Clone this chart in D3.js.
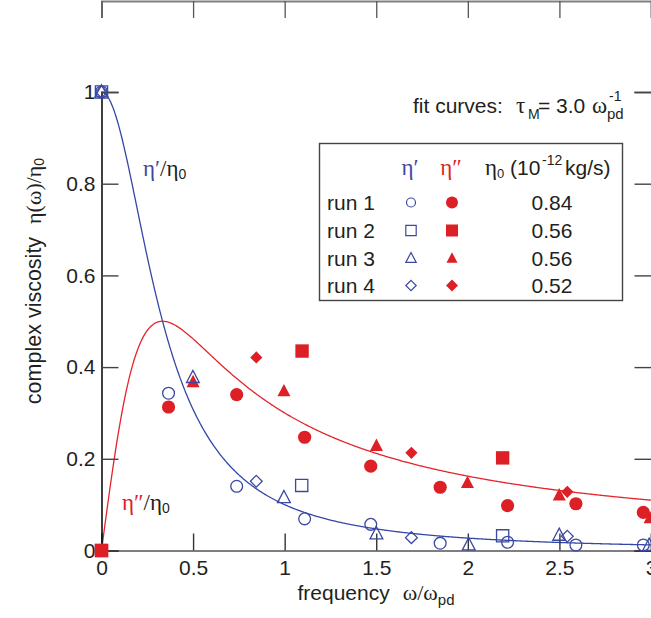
<!DOCTYPE html>
<html>
<head>
<meta charset="utf-8">
<script src="https://cdn.jsdelivr.net/npm/d3@7/dist/d3.min.js"></script>
<style>
  html, body { margin: 0; padding: 0; background: #fff; }
  svg { display: block; }
  text { font-family: "Liberation Sans", Arial, Helvetica, sans-serif; fill: #231f20; white-space: pre; }
  .serif { font-family: "Liberation Serif", "Times New Roman", serif; }
</style>
</head>
<body>
<svg id="chart" width="651" height="618"></svg>
<script>
// ---- data -------------------------------------------------------------
const runs = ["run 1", "run 2", "run 3", "run 4"];
const runShapes = ["circle", "square", "triangle", "diamond"];
const eta0Values = ["0.84", "0.56", "0.56", "0.52"];   // η0 in 10^-12 kg/s

// storage part η'/η0, per run: frequency ω/ω_pd and value
const etaPrimeFreq = [
  [0, 0.366, 0.738, 1.109, 1.470, 1.849, 2.217, 2.590, 2.958],
  [0, 1.093, 2.190],
  [0, 0.499, 0.996, 1.501, 2.005, 2.499, 2.990],
  [0, 0.845, 1.692, 2.543]
];
const etaPrimeVal = [
  [1, 0.343, 0.140, 0.069, 0.057, 0.016, 0.018, 0.012, 0.012],
  [1, 0.142, 0.032],
  [1, 0.377, 0.115, 0.036, 0.012, 0.033, 0.011],
  [1, 0.151, 0.028, 0.031]
];

// loss part η''/η0, per run
const etaDoublePrimeFreq = [
  [0, 0.366, 0.738, 1.109, 1.470, 1.849, 2.217, 2.590, 2.958],
  [0, 1.095, 2.190],
  [0, 0.500, 0.996, 1.501, 1.998, 2.499, 2.995],
  [0, 0.845, 1.692, 2.543]
];
const etaDoublePrimeVal = [
  [0, 0.313, 0.340, 0.247, 0.184, 0.138, 0.098, 0.102, 0.083],
  [0, 0.435, 0.202],
  [0, 0.367, 0.347, 0.228, 0.147, 0.120, 0.070],
  [0, 0.421, 0.213, 0.128]
];

// Maxwell fit: relaxation time in units of 1/ω_pd
const tauM = 3.0;
const xTicks = [0, 0.5, 1, 1.5, 2, 2.5, 3];
const xTickLabels = ["0", "0.5", "1", "1.5", "2", "2.5", "3"];
const yTicks = [0, 0.2, 0.4, 0.6, 0.8, 1];
const yTickLabels = ["0", "0.2", "0.4", "0.6", "0.8", "1"];

// ---- setup ------------------------------------------------------------
const BLUE = "#3b49a3";
const BLUE_LINE = "#3447a6";
const RED = "#dd1f26";
const RED_LINE = "#e5242b";
const FS = 21;

const svg = d3.select("#chart");
const x = d3.scaleLinear().domain([0, 3]).range([101.5, 651]);
const y = d3.scaleLinear().domain([0, 1]).range([550.5, 92]);

// symbol path generator (centred on 0,0), r = half width
function shapePath(type, r) {
  const p = d3.path();
  if (type === "circle") {
    p.arc(0, 0, r, 0, 2 * Math.PI);
  } else if (type === "square") {
    p.rect(-r, -r, 2 * r, 2 * r);
  } else if (type === "triangle") {
    const h = r * 1.9;
    p.moveTo(0, -h * 0.6);
    p.lineTo(r, h * 0.4);
    p.lineTo(-r, h * 0.4);
    p.closePath();
  } else if (type === "diamond") {
    p.moveTo(0, -r); p.lineTo(r, 0); p.lineTo(0, r); p.lineTo(-r, 0); p.closePath();
  }
  return p.toString();
}
const openR = { circle: 5.9, square: 6.1, triangle: 6.4, diamond: 5.9 };
const fillR = { circle: 6.6, square: 6.7, triangle: 6.5, diamond: 6.1 };

// ---- fit curves -------------------------------------------------------
const fitW = d3.range(0, 3.0001, 0.005);
const storage = fitW.map(w => [w, 1 / (1 + (w * tauM) ** 2)]);
const loss = fitW.map(w => [w, (w * tauM) / (1 + (w * tauM) ** 2)]);
const line = d3.line().x(d => x(d[0])).y(d => y(d[1]));

svg.append("path").attr("d", line(storage))
  .attr("fill", "none").attr("stroke", BLUE_LINE).attr("stroke-width", 1.3);
svg.append("path").attr("d", line(loss))
  .attr("fill", "none").attr("stroke", RED_LINE).attr("stroke-width", 1.3);

// ---- axes (ticks pointing inward) ------------------------------------
const axisColor = "#555";
const xAxisBottom = d3.axisBottom(x).tickValues(xTicks)
  .tickFormat((d, i) => xTickLabels[i]).tickSize(-17).tickPadding(9);
const gxb = svg.append("g").attr("transform", "translate(0,550.5)").call(xAxisBottom);
gxb.select(".domain").attr("stroke", axisColor).attr("stroke-width", 1.6);
gxb.selectAll(".tick line").attr("stroke", "#333").attr("stroke-width", 1.4);
gxb.selectAll(".tick text").attr("font-size", FS).attr("fill", "#231f20")
  .style("font-family", "'Liberation Sans', Arial, sans-serif").attr("dy", "0.74em");

const xAxisTop = d3.axisTop(x).tickValues(xTicks).tickFormat("").tickSize(-17);
const gxt = svg.append("g").attr("transform", "translate(0,1)").call(xAxisTop);
gxt.select(".domain").attr("stroke", "#808080").attr("stroke-width", 2);
gxt.selectAll(".tick line").attr("stroke", "#555").attr("stroke-width", 1.3);

const yAxisLeft = d3.axisLeft(y).tickValues(yTicks)
  .tickFormat((d, i) => yTickLabels[i]).tickSize(-17).tickPadding(6);
const gyl = svg.append("g").attr("transform", "translate(101.5,0)").call(yAxisLeft);
gyl.select(".domain").attr("stroke", "#111").attr("stroke-width", 1.6);
gyl.selectAll(".tick line").attr("stroke", "#444").attr("stroke-width", 1.4);
gyl.selectAll(".tick text").attr("font-size", FS).attr("fill", "#231f20")
  .style("font-family", "'Liberation Sans', Arial, sans-serif");

const yAxisRight = d3.axisRight(y).tickValues(yTicks).tickFormat("").tickSize(-17);
const gyr = svg.append("g").attr("transform", "translate(651.5,0)").call(yAxisRight);
gyr.select(".domain").attr("stroke", "#111").attr("stroke-width", 1.6);
gyr.selectAll(".tick line").attr("stroke", "#444").attr("stroke-width", 1.4);

// ---- data points ------------------------------------------------------
const pts = svg.append("g");
runs.forEach((r, i) => {
  const shape = runShapes[i];
  etaDoublePrimeFreq[i].forEach((w, j) => {
    pts.append("path")
      .attr("d", shapePath(shape, fillR[shape]))
      .attr("transform", `translate(${x(w)},${y(etaDoublePrimeVal[i][j])})`)
      .attr("fill", RED).attr("stroke", "none");
  });
});
runs.forEach((r, i) => {
  const shape = runShapes[i];
  etaPrimeFreq[i].forEach((w, j) => {
    pts.append("path")
      .attr("d", shapePath(shape, openR[shape]))
      .attr("transform", `translate(${x(w)},${y(etaPrimeVal[i][j])})`)
      .attr("fill", "none").attr("stroke", BLUE).attr("stroke-width", 1.3);
  });
});
// the loss point at the origin sits on top
pts.append("path").attr("d", shapePath("square", fillR.square))
  .attr("transform", `translate(${x(0)},${y(0)})`).attr("fill", RED);

// ---- text helpers -----------------------------------------------------
// place a text piece at an absolute position
function piece(parent, xPos, yPos, str, opts) {
  opts = opts || {};
  const t = parent.append("text").attr("x", xPos).attr("y", yPos)
    .attr("font-size", opts.size || FS).text(str);
  if (opts.serif) t.attr("class", "serif");
  if (opts.fill) t.style("fill", opts.fill);
  if (opts.anchor) t.attr("text-anchor", opts.anchor);
  return t;
}
// segments laid out one after another inside one text element
function rich(parent, xPos, yPos, segs, anchor) {
  const t = parent.append("text").attr("x", xPos).attr("y", yPos)
    .attr("font-size", FS).attr("text-anchor", anchor || "start");
  segs.forEach(s => {
    const ts = t.append("tspan").text(s.t);
    if (s.serif) ts.attr("class", "serif");
    if (s.size) ts.attr("font-size", s.size);
    if (s.dy) ts.attr("dy", s.dy);
    if (s.dx) ts.attr("dx", s.dx);
    if (s.fill) ts.style("fill", s.fill);
  });
  return t;
}

// curve labels
rich(svg, 143, 176, [
  { t: "η′", serif: true, fill: BLUE, size: 23 },
  { t: "/", serif: true, size: 23 },
  { t: "η", serif: true, size: 23 },
  { t: "0", size: 14, dy: 3 }
]);
rich(svg, 122, 510, [
  { t: "η″", serif: true, fill: RED, size: 23 },
  { t: "/", serif: true, size: 23 },
  { t: "η", serif: true, size: 23 },
  { t: "0", size: 14, dy: 3 }
]);

// axis titles
rich(svg, 376, 600, [
  { t: "frequency" },
  { t: "ω/ω", serif: true, size: 22, dx: 13 },
  { t: "pd", size: 15, dy: 5 }
], "middle");

const yt = svg.append("g").attr("transform", "translate(41,281) rotate(-90)");
rich(yt, 0, 0, [
  { t: "complex viscosity" },
  { t: "η(ω)/η", serif: true, size: 22, dx: 13 },
  { t: "0", size: 14, dy: 3 }
], "middle").attr("font-size", 21.5);

// fit annotation
const fit = svg.append("g");
piece(fit, 413, 113, "fit curves:");
piece(fit, 516, 113, "τ", { serif: true, size: 23 });
piece(fit, 528, 119, "M", { size: 14 });
piece(fit, 538, 113, "= 3.0");
piece(fit, 592, 113, "ω", { serif: true, size: 23 });
piece(fit, 607, 119, "pd", { size: 15 });
piece(fit, 609, 101, "-1", { size: 14 });

// ---- legend -----------------------------------------------------------
const lg = svg.append("g");
lg.append("rect").attr("x", 319.5).attr("y", 143.5).attr("width", 303).attr("height", 157)
  .attr("fill", "none").attr("stroke", "#444").attr("stroke-width", 1.4);

piece(lg, 410, 175, "η′", { serif: true, size: 23, fill: BLUE, anchor: "middle" });
piece(lg, 451, 175, "η″", { serif: true, size: 23, fill: RED, anchor: "middle" });
piece(lg, 485, 175, "η", { serif: true, size: 23 });
piece(lg, 497, 178, "0", { size: 13 });
piece(lg, 510, 175, "(10");
piece(lg, 542, 165, "-12", { size: 14 });
piece(lg, 565, 175, "kg/s)");

const rowBase = [210, 238, 266, 293];
runs.forEach((r, i) => {
  const shape = runShapes[i];
  lg.append("text").attr("x", 327).attr("y", rowBase[i]).attr("font-size", FS).text(r);
  lg.append("path").attr("d", shapePath(shape, shape === "circle" ? 4.5 : 5.2))
    .attr("transform", `translate(411,${rowBase[i] - 7.5})`)
    .attr("fill", "none").attr("stroke", BLUE).attr("stroke-width", 1.2);
  lg.append("path").attr("d", shapePath(shape, shape === "triangle" ? 5.5 : 6.0))
    .attr("transform", `translate(452,${rowBase[i] - 7.5})`)
    .attr("fill", RED);
  lg.append("text").attr("x", 552).attr("y", rowBase[i]).attr("font-size", FS)
    .attr("text-anchor", "middle").text(eta0Values[i]);
});
</script>
</body>
</html>
